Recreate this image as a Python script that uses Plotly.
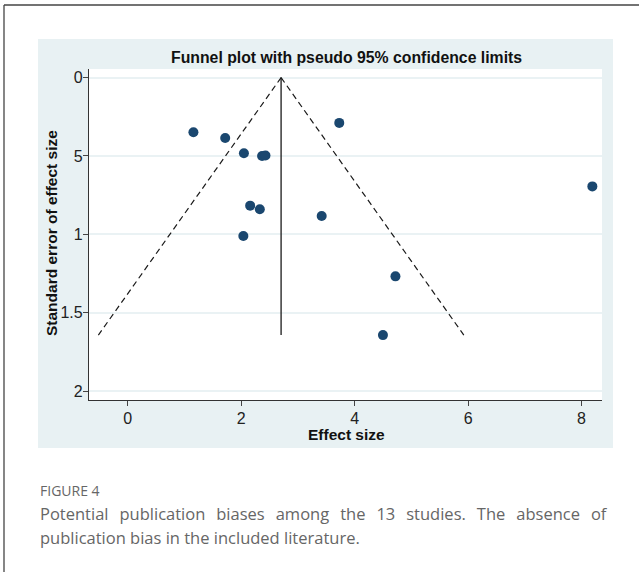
import plotly.graph_objects as go

# Study data
effect_size = [1.16, 1.72, 2.05, 2.37, 2.43, 2.16, 2.33, 2.04, 3.73, 8.19, 3.42, 4.72, 4.50]
std_error = [0.349, 0.385, 0.483, 0.500, 0.497, 0.817, 0.840, 1.011, 0.289, 0.694, 0.883, 1.268, 1.643]

# Pseudo 95% confidence limit lines (endpoints)
center_x = [2.705, 2.705]
center_y = [0.0, 1.643]
lower_x = [2.705, -0.515]
lower_y = [0.0, 1.643]
upper_x = [2.705, 5.925]
upper_y = [0.0, 1.643]

x_ticks = [0, 2, 4, 6, 8]
y_ticks = [0, 0.5, 1, 1.5, 2]
y_ticktext = ["0", "5", "1", "1.5", "2"]

W, H = 639, 572
def px(x):
    return x / W
def py(y):
    return 1 - y / H

fig = go.Figure()
fig.add_trace(go.Scatter(x=lower_x, y=lower_y, mode="lines",
                         line=dict(color="#1a1a1a", width=1.2, dash="6px,4px"), hoverinfo="skip"))
fig.add_trace(go.Scatter(x=upper_x, y=upper_y, mode="lines",
                         line=dict(color="#1a1a1a", width=1.2, dash="6px,4px"), hoverinfo="skip"))
fig.add_trace(go.Scatter(x=center_x, y=center_y, mode="lines",
                         line=dict(color="#1a1a1a", width=1.3), hoverinfo="skip"))
fig.add_trace(go.Scatter(x=effect_size, y=std_error, mode="markers",
                         marker=dict(color="#1A476F", size=10)))

font_main = "Liberation Sans, Arial, sans-serif"
cap_font = "Open Sans, sans-serif"

line1 = "Potential publication biases among the 13 studies. The absence of"
line1_just = line1.replace(" ", "\u2002\u2009")

fig.update_layout(
    width=W, height=H,
    margin=dict(l=0, r=0, t=0, b=0),
    paper_bgcolor="white",
    plot_bgcolor="white",
    showlegend=False,
    font=dict(family=font_main, color="#222"),
    xaxis=dict(
        domain=[px(89), px(602)],
        range=[-0.68, 8.36],
        tickvals=x_ticks,
        ticks="outside", ticklen=5, tickcolor="#444", tickwidth=1,
        showline=True, linecolor="#333", linewidth=1.3,
        showgrid=False, zeroline=False,
        tickfont=dict(size=16, color="#222"),
        ticklabelstandoff=-1,
    ),
    yaxis=dict(
        domain=[py(400), py(69)],
        range=[2.057, -0.055],
        tickvals=y_ticks, ticktext=y_ticktext,
        ticks="outside", ticklen=5, tickcolor="#444", tickwidth=1,
        showline=True, linecolor="#333", linewidth=1.3,
        showgrid=True, gridcolor="#EAF2F4", gridwidth=1.5,
        zeroline=False,
        tickfont=dict(size=16, color="#222"),
        ticklabelstandoff=-3,
    ),
    shapes=[
        dict(type="rect", xref="paper", yref="paper",
             x0=px(38), x1=px(613), y0=py(448), y1=py(39),
             fillcolor="#E8F1F3", line=dict(width=0), layer="below"),
        dict(type="rect", xref="paper", yref="paper",
             x0=px(89), x1=px(602), y0=py(400), y1=py(69),
             fillcolor="white", line=dict(width=0), layer="below"),
        dict(type="line", xref="paper", yref="paper",
             x0=px(4), x1=1, y0=py(5), y1=py(5), line=dict(color="#444", width=1.3)),
        dict(type="line", xref="paper", yref="paper",
             x0=px(4), x1=px(4), y0=py(5), y1=0, line=dict(color="#444", width=1.3)),
    ],
    annotations=[
        dict(text="<b>Funnel plot with pseudo 95% confidence limits</b>",
             xref="paper", yref="paper", x=px(346), y=py(58),
             xanchor="center", yanchor="middle",
             showarrow=False, font=dict(size=15.8, color="#111", family=font_main)),
        dict(text="<b>Effect size</b>",
             xref="paper", yref="paper", x=px(346), y=py(434),
             xanchor="center", yanchor="middle",
             showarrow=False, font=dict(size=15.5, color="#111", family=font_main)),
        dict(text="<b>Standard error of effect size</b>",
             xref="paper", yref="paper", x=px(52), y=py(233),
             xanchor="center", yanchor="middle", textangle=-90,
             showarrow=False, font=dict(size=15.5, color="#111", family=font_main)),
        dict(text="FIGURE 4", xref="paper", yref="paper", x=px(38), y=py(490),
             xanchor="left", yanchor="middle", showarrow=False,
             font=dict(size=14, color="#666", family=cap_font)),
        dict(text=line1_just,
             xref="paper", yref="paper", x=px(38), y=py(513),
             xanchor="left", yanchor="middle", showarrow=False,
             font=dict(size=16.5, color="#666", family=cap_font)),
        dict(text="publication bias in the included literature.",
             xref="paper", yref="paper", x=px(38), y=py(537),
             xanchor="left", yanchor="middle", showarrow=False,
             font=dict(size=16.5, color="#666", family=cap_font)),
    ],
)

fig.write_html("out.html")
